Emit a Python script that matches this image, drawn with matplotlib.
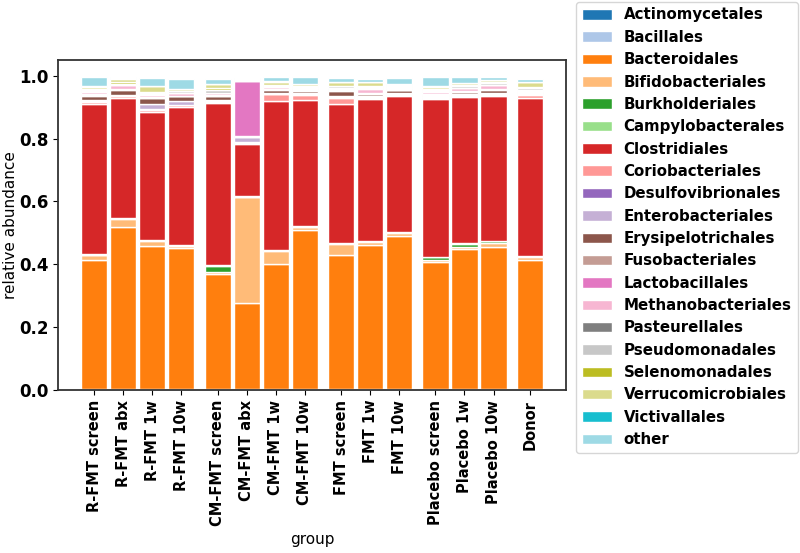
import numpy as np
import matplotlib
matplotlib.use("Agg")
import matplotlib.pyplot as plt

# -----------------------------
# Data
# -----------------------------
groups = ["R-FMT screen", "R-FMT abx", "R-FMT 1w", "R-FMT 10w",
          "CM-FMT screen", "CM-FMT abx", "CM-FMT 1w", "CM-FMT 10w",
          "FMT screen", "FMT 1w", "FMT 10w",
          "Placebo screen", "Placebo 1w", "Placebo 10w",
          "Donor"]
# block index of each group (gaps between blocks)
block = [0, 0, 0, 0, 1, 1, 1, 1, 2, 2, 2, 3, 3, 3, 4]

Actinomycetales = [0.003] * 15
Bacillales = [0.001] * 15
Bacteroidales = [0.410, 0.515, 0.453, 0.449, 0.366, 0.274, 0.398, 0.504,
                 0.425, 0.457, 0.486, 0.403, 0.444, 0.451, 0.409]
Bifidobacteriales = [0.015, 0.025, 0.017, 0.006, 0.006, 0.335, 0.040, 0.010,
                     0.036, 0.010, 0.010, 0.008, 0.008, 0.012, 0.010]
Burkholderiales = [0.002, 0.002, 0.002, 0.002, 0.020, 0.002, 0.004, 0.002,
                   0.003, 0.003, 0.002, 0.008, 0.010, 0.006, 0.002]
Campylobacterales = [0.001] * 15
Clostridiales = [0.479, 0.383, 0.408, 0.439, 0.515, 0.167, 0.474, 0.403,
                 0.440, 0.450, 0.434, 0.502, 0.465, 0.462, 0.502]
Coriobacteriales = [0.006, 0.005, 0.006, 0.005, 0.005, 0.004, 0.020, 0.015,
                    0.020, 0.004, 0.003, 0.003, 0.004, 0.004, 0.012]
Desulfovibrionales = [0.002] * 15
Enterobacteriales = [0.004, 0.003, 0.016, 0.013, 0.004, 0.015, 0.003, 0.005,
                     0.003, 0.003, 0.002, 0.003, 0.003, 0.003, 0.003]
Erysipelotrichales = [0.013, 0.016, 0.020, 0.013, 0.013, 0.002, 0.010, 0.006,
                      0.018, 0.008, 0.009, 0.006, 0.007, 0.011, 0.004]
Fusobacteriales = [0.003, 0.001, 0.001, 0.001, 0.001, 0.001, 0.001, 0.001,
                   0.001, 0.001, 0.001, 0.001, 0.001, 0.001, 0.001]
Lactobacillales = [0.002, 0.002, 0.002, 0.002, 0.002, 0.175, 0.002, 0.002,
                   0.002, 0.002, 0.002, 0.002, 0.002, 0.002, 0.002]
Methanobacteriales = [0.008, 0.010, 0.008, 0.008, 0.006, 0.002, 0.004, 0.004,
                      0.004, 0.014, 0.003, 0.006, 0.010, 0.012, 0.003]
Pasteurellales = [0.001] * 15
Pseudomonadales = [0.004, 0.005, 0.004, 0.004, 0.010, 0.002, 0.004, 0.004,
                   0.006, 0.004, 0.004, 0.004, 0.004, 0.004, 0.004]
Selenomonadales = [0.003, 0.004, 0.002, 0.002, 0.005, 0.001, 0.003, 0.002,
                   0.002, 0.002, 0.002, 0.003, 0.003, 0.004, 0.005]
Verrucomicrobiales = [0.008, 0.012, 0.020, 0.006, 0.012, 0.001, 0.010, 0.008,
                      0.012, 0.013, 0.006, 0.008, 0.008, 0.006, 0.014]
Victivallales = [0.001] * 15
other = [0.030, 0.004, 0.025, 0.032, 0.015, 0.002, 0.013, 0.020,
         0.012, 0.010, 0.020, 0.030, 0.018, 0.010, 0.010]

orders = ["Actinomycetales", "Bacillales", "Bacteroidales", "Bifidobacteriales",
          "Burkholderiales", "Campylobacterales", "Clostridiales",
          "Coriobacteriales", "Desulfovibrionales", "Enterobacteriales",
          "Erysipelotrichales", "Fusobacteriales", "Lactobacillales",
          "Methanobacteriales", "Pasteurellales", "Pseudomonadales",
          "Selenomonadales", "Verrucomicrobiales", "Victivallales", "other"]
values = [Actinomycetales, Bacillales, Bacteroidales, Bifidobacteriales,
          Burkholderiales, Campylobacterales, Clostridiales, Coriobacteriales,
          Desulfovibrionales, Enterobacteriales, Erysipelotrichales,
          Fusobacteriales, Lactobacillales, Methanobacteriales, Pasteurellales,
          Pseudomonadales, Selenomonadales, Verrucomicrobiales, Victivallales,
          other]

# -----------------------------
# Plot
# -----------------------------
FS = 10.5
colors = plt.get_cmap("tab20").colors
x = np.arange(len(groups)) + 0.25 * np.array(block)

fig = plt.figure(figsize=(8.0, 5.53), dpi=100)
ax = fig.add_axes([58 / 800, 1 - 390 / 553, 508 / 800, 330 / 553])

bottom = np.zeros(len(groups))
for name, vals, col in zip(orders, values, colors):
    vals = np.array(vals)
    ax.bar(x, vals, width=0.9, bottom=bottom, color=col, label=name,
           edgecolor="white", linewidth=1.0)
    bottom += vals

ax.set_xticks(x)
ax.set_xticklabels(groups, rotation=90, fontweight="bold", fontsize=FS)
ax.set_yticks([0.0, 0.2, 0.4, 0.6, 0.8, 1.0])
ax.set_yticklabels(["0.0", "0.2", "0.4", "0.6", "0.8", "1.0"],
                   fontweight="bold", fontsize=FS + 1.5)
ax.set_ylim(0, 1.05)
ax.set_xlabel("group", fontsize=FS + 0.5)
ax.set_ylabel("relative abundance", fontsize=FS + 0.5)
ax.yaxis.set_label_coords(-0.078, 0.5)
for sp in ax.spines.values():
    sp.set_linewidth(1.3)
    sp.set_color("#333333")

leg = fig.legend(loc="upper left", bbox_to_anchor=(574 / 800, 1.0),
                 prop={"weight": "bold", "size": 10.8}, labelspacing=0.49,
                 borderaxespad=0.1, frameon=True)

fig.savefig("out.png", dpi=100)
